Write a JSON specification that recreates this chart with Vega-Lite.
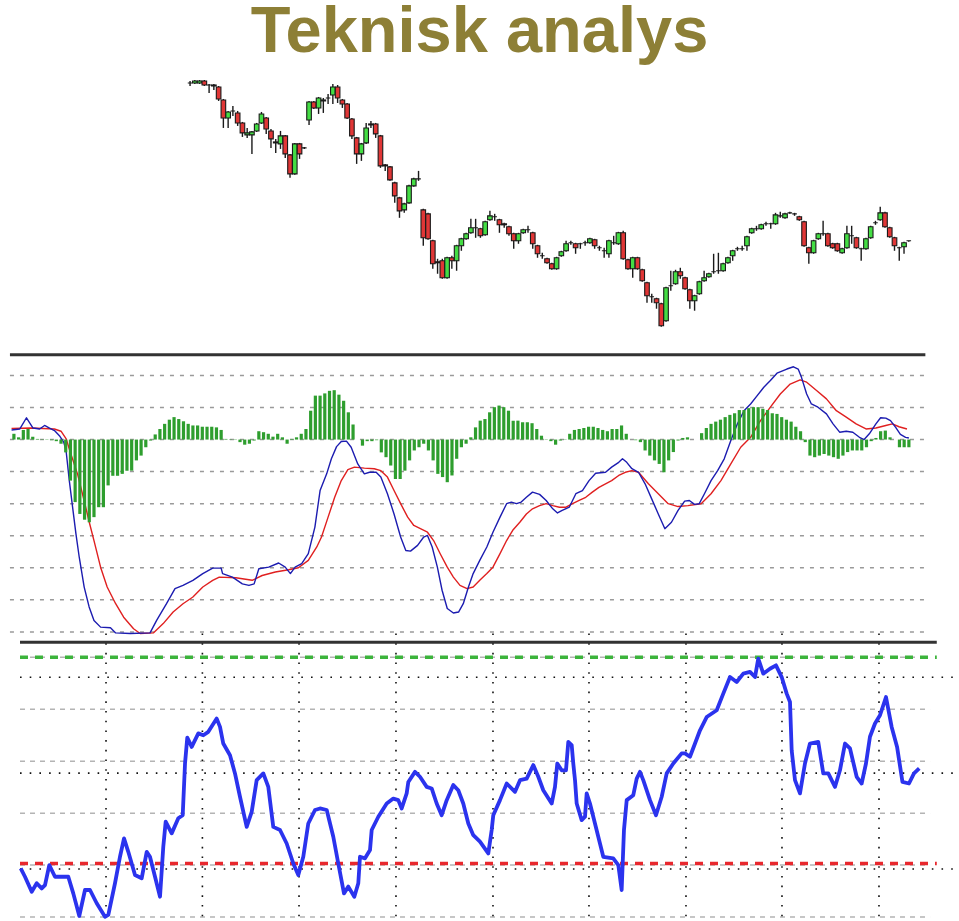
{
"$schema": "https://vega.github.io/schema/vega-lite/v6.json",
"width": 959, "height": 921,
"autosize": {"type": "fit", "contains": "padding"},
"padding": 0,
"background": "white",
"config": {"view": {"stroke": null}},
"title": {"text": "Teknisk analys", "fontSize": 65, "font": "Liberation Sans", "fontWeight": "bold", "color": "#8d7f36", "anchor": "middle", "baseline": "alphabetic", "offset": -50},
"datasets": {
"candles": [
{"i":0,"o":318,"h":320,"l":315,"c":318},{"i":1,"o":318,"h":321,"l":317,"c":320},{"i":2,"o":318,"h":321,"l":317,"c":320},{"i":3,"o":320,"h":321,"l":315,"c":316},{"i":4,"o":316,"h":317,"l":308,"c":316},{"i":5,"o":316,"h":317,"l":311,"c":315},{"i":6,"o":314,"h":315,"l":300,"c":302},{"i":7,"o":301,"h":302,"l":273,"c":283},{"i":8,"o":283,"h":290,"l":273,"c":289},{"i":9,"o":290,"h":295,"l":285,"c":290},
{"i":10,"o":288,"h":290,"l":275,"c":278},{"i":11,"o":278,"h":279,"l":264,"c":268},{"i":12,"o":266,"h":273,"l":263,"c":268},{"i":13,"o":266,"h":270,"l":247,"c":269},{"i":14,"o":270,"h":278,"l":269,"c":277},{"i":15,"o":278,"h":289,"l":277,"c":287},{"i":16,"o":283,"h":284,"l":267,"c":272},{"i":17,"o":270,"h":272,"l":253,"c":262},{"i":18,"o":259,"h":262,"l":248,"c":258},{"i":19,"o":257,"h":270,"l":252,"c":265},
{"i":20,"o":265,"h":266,"l":243,"c":247},{"i":21,"o":246,"h":247,"l":223,"c":227},{"i":22,"o":227,"h":258,"l":226,"c":257},{"i":23,"o":257,"h":258,"l":242,"c":247},{"i":24,"o":253,"h":254,"l":252,"c":253},{"i":25,"o":281,"h":300,"l":276,"c":299},{"i":26,"o":299,"h":300,"l":292,"c":293},{"i":27,"o":293,"h":304,"l":287,"c":303},{"i":28,"o":300,"h":303,"l":288,"c":301},{"i":29,"o":303,"h":307,"l":297,"c":303},
{"i":30,"o":306,"h":317,"l":297,"c":314},{"i":31,"o":314,"h":316,"l":298,"c":303},{"i":32,"o":301,"h":302,"l":293,"c":297},{"i":33,"o":297,"h":298,"l":282,"c":283},{"i":34,"o":282,"h":283,"l":262,"c":265},{"i":35,"o":263,"h":264,"l":237,"c":247},{"i":36,"o":247,"h":258,"l":240,"c":257},{"i":37,"o":258,"h":278,"l":257,"c":273},{"i":38,"o":277,"h":280,"l":273,"c":276},{"i":39,"o":277,"h":278,"l":263,"c":267},
{"i":40,"o":265,"h":266,"l":233,"c":235},{"i":41,"o":236,"h":237,"l":230,"c":235},{"i":42,"o":234,"h":235,"l":220,"c":221},{"i":43,"o":218,"h":219,"l":198,"c":205},{"i":44,"o":203,"h":204,"l":183,"c":190},{"i":45,"o":191,"h":198,"l":188,"c":197},{"i":46,"o":198,"h":216,"l":197,"c":215},{"i":47,"o":215,"h":223,"l":214,"c":222},{"i":48,"o":222,"h":230,"l":220,"c":222},{"i":49,"o":191,"h":192,"l":155,"c":163},
{"i":50,"o":187,"h":188,"l":161,"c":162},{"i":51,"o":160,"h":161,"l":132,"c":137},{"i":52,"o":139,"h":142,"l":127,"c":138},{"i":53,"o":140,"h":142,"l":122,"c":123},{"i":54,"o":123,"h":144,"l":122,"c":143},{"i":55,"o":143,"h":145,"l":132,"c":140},{"i":56,"o":140,"h":156,"l":130,"c":155},{"i":57,"o":155,"h":163,"l":150,"c":162},{"i":58,"o":162,"h":168,"l":161,"c":167},{"i":59,"o":168,"h":182,"l":167,"c":173},
{"i":60,"o":173,"h":182,"l":163,"c":173},{"i":61,"o":172,"h":173,"l":163,"c":165},{"i":62,"o":166,"h":180,"l":165,"c":179},{"i":63,"o":181,"h":190,"l":180,"c":185},{"i":64,"o":184,"h":187,"l":180,"c":184},{"i":65,"o":181,"h":182,"l":168,"c":176},{"i":66,"o":177,"h":178,"l":173,"c":176},{"i":67,"o":174,"h":175,"l":165,"c":167},{"i":68,"o":167,"h":168,"l":152,"c":160},{"i":69,"o":160,"h":168,"l":157,"c":167},
{"i":70,"o":168,"h":172,"l":167,"c":171},{"i":71,"o":171,"h":175,"l":168,"c":171},{"i":72,"o":168,"h":169,"l":152,"c":157},{"i":73,"o":155,"h":156,"l":143,"c":147},{"i":74,"o":145,"h":148,"l":142,"c":145},{"i":75,"o":142,"h":143,"l":137,"c":138},{"i":76,"o":137,"h":138,"l":131,"c":132},{"i":77,"o":132,"h":144,"l":131,"c":143},{"i":78,"o":145,"h":150,"l":144,"c":149},{"i":79,"o":150,"h":160,"l":149,"c":157},
{"i":80,"o":158,"h":160,"l":156,"c":158},{"i":81,"o":157,"h":158,"l":147,"c":153},{"i":82,"o":157,"h":158,"l":152,"c":157},{"i":83,"o":158,"h":160,"l":155,"c":158},{"i":84,"o":158,"h":163,"l":157,"c":162},{"i":85,"o":161,"h":162,"l":152,"c":155},{"i":86,"o":153,"h":155,"l":150,"c":153},{"i":87,"o":150,"h":153,"l":143,"c":150},{"i":88,"o":147,"h":161,"l":143,"c":160},{"i":89,"o":158,"h":165,"l":156,"c":158},
{"i":90,"o":157,"h":169,"l":156,"c":168},{"i":91,"o":168,"h":170,"l":141,"c":142},{"i":92,"o":141,"h":142,"l":131,"c":132},{"i":93,"o":132,"h":144,"l":123,"c":143},{"i":94,"o":143,"h":144,"l":131,"c":132},{"i":95,"o":131,"h":132,"l":119,"c":120},{"i":96,"o":118,"h":119,"l":98,"c":105},{"i":97,"o":104,"h":107,"l":98,"c":104},{"i":98,"o":102,"h":103,"l":92,"c":98},{"i":99,"o":97,"h":98,"l":74,"c":75},
{"i":100,"o":80,"h":114,"l":79,"c":113},{"i":101,"o":115,"h":130,"l":110,"c":115},{"i":102,"o":117,"h":131,"l":116,"c":129},{"i":103,"o":129,"h":133,"l":122,"c":125},{"i":104,"o":123,"h":124,"l":111,"c":112},{"i":105,"o":111,"h":112,"l":92,"c":100},{"i":106,"o":100,"h":106,"l":90,"c":105},{"i":107,"o":107,"h":120,"l":106,"c":119},{"i":108,"o":120,"h":130,"l":119,"c":123},{"i":109,"o":124,"h":128,"l":123,"c":127},
{"i":110,"o":129,"h":147,"l":127,"c":129},{"i":111,"o":130,"h":148,"l":127,"c":130},{"i":112,"o":130,"h":138,"l":129,"c":137},{"i":113,"o":138,"h":144,"l":137,"c":143},{"i":114,"o":145,"h":151,"l":140,"c":150},{"i":115,"o":152,"h":154,"l":150,"c":152},{"i":116,"o":152,"h":155,"l":150,"c":152},{"i":117,"o":155,"h":165,"l":150,"c":164},{"i":118,"o":168,"h":173,"l":167,"c":172},{"i":119,"o":172,"h":175,"l":170,"c":172},
{"i":120,"o":172,"h":177,"l":171,"c":176},{"i":121,"o":177,"h":179,"l":175,"c":177},{"i":122,"o":177,"h":178,"l":172,"c":177},{"i":123,"o":177,"h":188,"l":176,"c":186},{"i":124,"o":185,"h":189,"l":183,"c":185},{"i":125,"o":183,"h":188,"l":182,"c":187},{"i":126,"o":188,"h":189,"l":187,"c":188},{"i":127,"o":187,"h":188,"l":185,"c":187},{"i":128,"o":184,"h":185,"l":180,"c":181},{"i":129,"o":179,"h":180,"l":154,"c":155},
{"i":130,"o":153,"h":154,"l":137,"c":148},{"i":131,"o":148,"h":161,"l":147,"c":160},{"i":132,"o":162,"h":168,"l":161,"c":167},{"i":133,"o":167,"h":180,"l":165,"c":167},{"i":134,"o":167,"h":168,"l":154,"c":155},{"i":135,"o":157,"h":158,"l":152,"c":153},{"i":136,"o":157,"h":158,"l":149,"c":150},{"i":137,"o":148,"h":153,"l":147,"c":152},{"i":138,"o":153,"h":175,"l":152,"c":167},{"i":139,"o":165,"h":175,"l":157,"c":165},
{"i":140,"o":163,"h":164,"l":152,"c":153},{"i":141,"o":152,"h":153,"l":140,"c":152},{"i":142,"o":152,"h":163,"l":151,"c":162},{"i":143,"o":163,"h":175,"l":162,"c":174},{"i":144,"o":178,"h":180,"l":176,"c":178},{"i":145,"o":181,"h":194,"l":180,"c":188},{"i":146,"o":188,"h":189,"l":173,"c":174},{"i":147,"o":173,"h":174,"l":163,"c":164},{"i":148,"o":163,"h":164,"l":150,"c":155},{"i":149,"o":153,"h":154,"l":140,"c":153},
{"i":150,"o":154,"h":159,"l":147,"c":158},{"i":151,"o":160,"h":160,"l":159,"c":160}
],
"hist": [
{"k":0,"v":0.18},{"k":1,"v":0.07},{"k":2,"v":0.30},{"k":3,"v":0.33},{"k":4,"v":0.09},{"k":5,"v":0.02},{"k":6,"v":0.01},{"k":7,"v":0.01},{"k":8,"v":-0.02},{"k":9,"v":-0.05},
{"k":10,"v":-0.13},{"k":11,"v":-0.40},{"k":12,"v":-1.28},{"k":13,"v":-1.95},{"k":14,"v":-2.32},{"k":15,"v":-2.50},{"k":16,"v":-2.58},{"k":17,"v":-2.42},{"k":18,"v":-2.11},{"k":19,"v":-2.11},
{"k":20,"v":-1.43},{"k":21,"v":-1.13},{"k":22,"v":-1.13},{"k":23,"v":-1.07},{"k":24,"v":-0.97},{"k":25,"v":-0.97},{"k":26,"v":-0.65},{"k":27,"v":-0.50},{"k":28,"v":-0.24},{"k":29,"v":-0.03},
{"k":30,"v":0.16},{"k":31,"v":0.33},{"k":32,"v":0.49},{"k":33,"v":0.62},{"k":34,"v":0.70},{"k":35,"v":0.64},{"k":36,"v":0.57},{"k":37,"v":0.49},{"k":38,"v":0.44},{"k":39,"v":0.44},
{"k":40,"v":0.40},{"k":41,"v":0.40},{"k":42,"v":0.40},{"k":43,"v":0.38},{"k":44,"v":0.30},{"k":45,"v":0.02},{"k":46,"v":0.01},{"k":47,"v":0.01},{"k":48,"v":-0.08},{"k":49,"v":-0.16},
{"k":50,"v":-0.13},{"k":51,"v":-0.03},{"k":52,"v":0.26},{"k":53,"v":0.23},{"k":54,"v":0.18},{"k":55,"v":0.09},{"k":56,"v":0.18},{"k":57,"v":0.07},{"k":58,"v":-0.13},{"k":59,"v":0.02},
{"k":60,"v":0.07},{"k":61,"v":0.18},{"k":62,"v":0.33},{"k":63,"v":0.90},{"k":64,"v":1.37},{"k":65,"v":1.37},{"k":66,"v":1.44},{"k":67,"v":1.52},{"k":68,"v":1.54},{"k":69,"v":1.40},
{"k":70,"v":1.21},{"k":71,"v":0.85},{"k":72,"v":0.47},{"k":73,"v":0.0},{"k":74,"v":-0.19},{"k":75,"v":-0.05},{"k":76,"v":-0.05},{"k":77,"v":-0.02},{"k":78,"v":-0.40},{"k":79,"v":-0.55},
{"k":80,"v":-0.81},{"k":81,"v":-1.23},{"k":82,"v":-1.23},{"k":83,"v":-0.97},{"k":84,"v":-0.65},{"k":85,"v":-0.34},{"k":86,"v":-0.24},{"k":87,"v":-0.13},{"k":88,"v":-0.34},{"k":89,"v":-0.65},
{"k":90,"v":-1.07},{"k":91,"v":-1.17},{"k":92,"v":-1.33},{"k":93,"v":-1.12},{"k":94,"v":-0.60},{"k":95,"v":-0.24},{"k":96,"v":-0.13},{"k":97,"v":0.07},{"k":98,"v":0.38},{"k":99,"v":0.59},
{"k":100,"v":0.64},{"k":101,"v":0.85},{"k":102,"v":1.01},{"k":103,"v":1.06},{"k":104,"v":1.01},{"k":105,"v":0.90},{"k":106,"v":0.59},{"k":107,"v":0.59},{"k":108,"v":0.54},{"k":109,"v":0.54},
{"k":110,"v":0.51},{"k":111,"v":0.33},{"k":112,"v":0.12},{"k":113,"v":0.01},{"k":114,"v":-0.05},{"k":115,"v":-0.16},{"k":116,"v":-0.03},{"k":117,"v":0.01},{"k":118,"v":0.18},{"k":119,"v":0.30},
{"k":120,"v":0.33},{"k":121,"v":0.36},{"k":122,"v":0.40},{"k":123,"v":0.40},{"k":124,"v":0.36},{"k":125,"v":0.30},{"k":126,"v":0.26},{"k":127,"v":0.33},{"k":128,"v":0.33},{"k":129,"v":0.44},
{"k":130,"v":0.18},{"k":131,"v":0.0},{"k":132,"v":-0.02},{"k":133,"v":-0.08},{"k":134,"v":-0.34},{"k":135,"v":-0.50},{"k":136,"v":-0.65},{"k":137,"v":-0.76},{"k":138,"v":-1.02},{"k":139,"v":-0.65},
{"k":140,"v":-0.39},{"k":141,"v":-0.03},{"k":142,"v":0.05},{"k":143,"v":0.07},{"k":144,"v":0.0},{"k":145,"v":0.0},{"k":146,"v":0.20},{"k":147,"v":0.36},{"k":148,"v":0.49},{"k":149,"v":0.56},
{"k":150,"v":0.62},{"k":151,"v":0.70},{"k":152,"v":0.77},{"k":153,"v":0.82},{"k":154,"v":0.92},{"k":155,"v":0.92},{"k":156,"v":0.98},{"k":157,"v":1.01},{"k":158,"v":1.01},{"k":159,"v":0.96},
{"k":160,"v":0.92},{"k":161,"v":0.82},{"k":162,"v":0.80},{"k":163,"v":0.70},{"k":164,"v":0.62},{"k":165,"v":0.56},{"k":166,"v":0.40},{"k":167,"v":0.26},{"k":168,"v":-0.08},{"k":169,"v":-0.50},
{"k":170,"v":-0.55},{"k":171,"v":-0.50},{"k":172,"v":-0.45},{"k":173,"v":-0.50},{"k":174,"v":-0.55},{"k":175,"v":-0.60},{"k":176,"v":-0.50},{"k":177,"v":-0.39},{"k":178,"v":-0.34},{"k":179,"v":-0.34},
{"k":180,"v":-0.34},{"k":181,"v":-0.24},{"k":182,"v":-0.05},{"k":183,"v":0.05},{"k":184,"v":0.26},{"k":185,"v":0.28},{"k":186,"v":0.07},{"k":187,"v":0.0},{"k":188,"v":-0.24},{"k":189,"v":-0.24},{"k":190,"v":-0.24}
],
"macd": [
{"k":-0.5,"u":0.30},{"k":1.26,"u":0.33},{"k":2.67,"u":0.68},{"k":4.06,"u":0.36},{"k":5.46,"u":0.33},{"k":6.51,"u":0.44},{"k":7.56,"u":0.36},{"k":8.61,"u":0.28},{"k":9.66,"u":0.12},{"k":10.57,"u":-0.08},{"k":11.07,"u":-0.34},{"k":11.76,"u":-1.28},{"k":12.46,"u":-2.11},{"k":13.17,"u":-2.94},{"k":13.87,"u":-3.67},{"k":14.92,"u":-4.60},{"k":15.97,"u":-5.22},{"k":17.0,"u":-5.64},{"k":18.4,"u":-5.85},{"k":20.5,"u":-5.87},{"k":21.6,"u":-6.03},{"k":24.7,"u":-6.05},{"k":28.9,"u":-6.03},{"k":30.3,"u":-5.64},{"k":32.4,"u":-5.12},{"k":34.2,"u":-4.65},{"k":35.9,"u":-4.55},{"k":38.0,"u":-4.39},{"k":40.1,"u":-4.18},{"k":42.2,"u":-4.01},{"k":44.0,"u":-4.01},{"k":44.3,"u":-4.18},{"k":46.4,"u":-4.29},{"k":48.5,"u":-4.50},{"k":49.9,"u":-4.55},{"k":51.0,"u":-4.50},{"k":52.0,"u":-4.03},{"k":54.1,"u":-3.98},{"k":56.2,"u":-3.85},{"k":57.6,"u":-3.98},{"k":58.7,"u":-4.18},{"k":59.7,"u":-3.98},{"k":61.1,"u":-3.87},{"k":62.5,"u":-3.56},{"k":63.9,"u":-2.73},{"k":65.0,"u":-1.59},{"k":66.4,"u":-1.07},{"k":67.4,"u":-0.60},{"k":68.5,"u":-0.22},{"k":69.5,"u":-0.06},{"k":70.6,"u":-0.05},{"k":71.6,"u":-0.24},{"k":73.0,"u":-0.76},{"k":74.4,"u":-1.07},{"k":75.5,"u":-1.02},{"k":76.9,"u":-1.02},{"k":77.9,"u":-1.17},{"k":79.3,"u":-1.69},{"k":80.7,"u":-2.32},{"k":82.1,"u":-3.04},{"k":83.2,"u":-3.46},{"k":84.2,"u":-3.48},{"k":85.7,"u":-3.30},{"k":87.0,"u":-3.04},{"k":87.8,"u":-2.99},{"k":88.8,"u":-3.35},{"k":89.9,"u":-3.98},{"k":90.9,"u":-4.70},{"k":92.0,"u":-5.27},{"k":93.3,"u":-5.41},{"k":94.4,"u":-5.38},{"k":95.4,"u":-5.12},{"k":96.5,"u":-4.60},{"k":97.5,"u":-4.18},{"k":98.9,"u":-3.77},{"k":100.4,"u":-3.35},{"k":101.7,"u":-2.89},{"k":103.2,"u":-2.42},{"k":104.6,"u":-2.00},{"k":105.6,"u":-1.95},{"k":106.7,"u":-2.00},{"k":107.7,"u":-1.95},{"k":108.8,"u":-1.80},{"k":110.1,"u":-1.64},{"k":111.6,"u":-1.71},{"k":113.0,"u":-1.90},{"k":114.4,"u":-2.16},{"k":115.4,"u":-2.29},{"k":116.4,"u":-2.21},{"k":117.9,"u":-2.11},{"k":119.3,"u":-1.69},{"k":120.7,"u":-1.59},{"k":122.1,"u":-1.28},{"k":123.5,"u":-1.05},{"k":125.6,"u":-1.02},{"k":126.9,"u":-0.86},{"k":128.4,"u":-0.71},{"k":129.2,"u":-0.60},{"k":130.1,"u":-0.71},{"k":131.2,"u":-0.91},{"k":132.6,"u":-1.02},{"k":134.0,"u":-1.38},{"k":135.4,"u":-1.85},{"k":136.8,"u":-2.32},{"k":138.2,"u":-2.78},{"k":139.6,"u":-2.58},{"k":141.0,"u":-2.21},{"k":142.4,"u":-1.92},{"k":143.4,"u":-1.90},{"k":144.5,"u":-2.02},{"k":145.5,"u":-2.00},{"k":146.6,"u":-1.69},{"k":148.0,"u":-1.28},{"k":149.4,"u":-0.97},{"k":150.8,"u":-0.60},{"k":152.2,"u":-0.03},{"k":153.6,"u":0.49},{"k":155.0,"u":0.90},{"k":156.4,"u":1.11},{"k":157.8,"u":1.37},{"k":159.2,"u":1.63},{"k":160.6,"u":1.84},{"k":162.0,"u":2.07},{"k":164.1,"u":2.20},{"k":165.5,"u":2.27},{"k":166.5,"u":2.20},{"k":167.2,"u":1.94},{"k":168.3,"u":1.42},{"k":169.3,"u":1.11},{"k":170.7,"u":1.01},{"k":172.5,"u":0.80},{"k":173.9,"u":0.49},{"k":175.3,"u":0.23},{"k":176.7,"u":0.26},{"k":178.1,"u":0.23},{"k":179.5,"u":0.07},{"k":180.5,"u":0.0},{"k":181.6,"u":0.18},{"k":183.0,"u":0.49},{"k":184.0,"u":0.68},{"k":185.1,"u":0.67},{"k":186.1,"u":0.59},{"k":187.2,"u":0.38},{"k":188.2,"u":0.16},{"k":189.3,"u":0.07},{"k":190.0,"u":0.05}
],
"signal": [
{"k":-0.5,"u":0.35},{"k":3.7,"u":0.36},{"k":8.6,"u":0.33},{"k":10.0,"u":0.26},{"k":11.1,"u":0.02},{"k":12.1,"u":-0.45},{"k":13.5,"u":-1.07},{"k":14.9,"u":-1.90},{"k":16.0,"u":-2.58},{"k":17.0,"u":-3.15},{"k":18.4,"u":-3.98},{"k":19.8,"u":-4.60},{"k":21.6,"u":-5.12},{"k":23.3,"u":-5.54},{"k":25.4,"u":-5.90},{"k":26.8,"u":-6.05},{"k":29.6,"u":-6.03},{"k":31.7,"u":-5.74},{"k":33.8,"u":-5.38},{"k":35.9,"u":-5.12},{"k":38.0,"u":-4.91},{"k":40.1,"u":-4.60},{"k":42.2,"u":-4.39},{"k":43.6,"u":-4.29},{"k":47.1,"u":-4.31},{"k":50.6,"u":-4.39},{"k":52.7,"u":-4.24},{"k":55.5,"u":-4.13},{"k":58.3,"u":-4.06},{"k":60.4,"u":-4.00},{"k":62.5,"u":-3.77},{"k":64.3,"u":-3.35},{"k":65.3,"u":-3.04},{"k":66.7,"u":-2.42},{"k":68.1,"u":-1.80},{"k":69.5,"u":-1.28},{"k":70.9,"u":-0.94},{"k":72.3,"u":-0.86},{"k":74.4,"u":-0.89},{"k":76.5,"u":-0.91},{"k":77.9,"u":-0.97},{"k":79.3,"u":-1.17},{"k":80.7,"u":-1.59},{"k":82.1,"u":-2.00},{"k":83.6,"u":-2.42},{"k":84.9,"u":-2.68},{"k":86.3,"u":-2.78},{"k":87.8,"u":-2.89},{"k":89.1,"u":-3.15},{"k":90.5,"u":-3.56},{"k":92.0,"u":-3.98},{"k":93.3,"u":-4.29},{"k":94.7,"u":-4.55},{"k":96.2,"u":-4.65},{"k":97.5,"u":-4.60},{"k":98.9,"u":-4.39},{"k":100.4,"u":-4.18},{"k":101.7,"u":-3.98},{"k":103.2,"u":-3.56},{"k":104.6,"u":-3.15},{"k":105.9,"u":-2.83},{"k":107.4,"u":-2.58},{"k":108.8,"u":-2.32},{"k":110.1,"u":-2.16},{"k":111.6,"u":-2.06},{"k":113.0,"u":-2.00},{"k":114.4,"u":-2.06},{"k":115.8,"u":-2.11},{"k":117.2,"u":-2.11},{"k":118.6,"u":-2.00},{"k":120.0,"u":-1.90},{"k":121.4,"u":-1.80},{"k":122.8,"u":-1.64},{"k":124.2,"u":-1.49},{"k":125.6,"u":-1.38},{"k":126.9,"u":-1.28},{"k":128.4,"u":-1.12},{"k":129.8,"u":-1.02},{"k":131.2,"u":-0.97},{"k":132.6,"u":-1.02},{"k":134.7,"u":-1.38},{"k":136.8,"u":-1.69},{"k":138.9,"u":-2.00},{"k":141.0,"u":-2.09},{"k":143.1,"u":-2.06},{"k":145.9,"u":-2.00},{"k":148.0,"u":-1.69},{"k":150.1,"u":-1.28},{"k":152.2,"u":-0.76},{"k":154.3,"u":-0.24},{"k":156.4,"u":0.07},{"k":158.5,"u":0.59},{"k":160.6,"u":1.01},{"k":162.7,"u":1.42},{"k":164.8,"u":1.73},{"k":166.9,"u":1.86},{"k":168.3,"u":1.79},{"k":170.4,"u":1.53},{"k":172.5,"u":1.27},{"k":174.6,"u":0.90},{"k":176.7,"u":0.70},{"k":178.8,"u":0.49},{"k":180.9,"u":0.33},{"k":183.0,"u":0.36},{"k":185.1,"u":0.44},{"k":186.5,"u":0.49},{"k":187.9,"u":0.40},{"k":189.6,"u":0.33}
],
"osc": [
{"t":0.15,"r":18.7},{"t":1.04,"r":15.5},{"t":2.44,"r":9.7},{"t":3.48,"r":13.0},{"t":4.52,"r":11.0},{"t":5.21,"r":12.3},{"t":6.10,"r":20.0},{"t":7.29,"r":15.5},{"t":10.06,"r":15.5},{"t":11.10,"r":9.1},{"t":12.35,"r":0.4},{"t":13.54,"r":10.4},{"t":14.58,"r":10.4},{"t":15.98,"r":5.3},{"t":17.71,"r":0.1},{"t":18.40,"r":0.8},{"t":19.79,"r":13.0},{"t":20.83,"r":23.2},{"t":21.67,"r":30.3},{"t":22.56,"r":25.1},{"t":23.96,"r":16.2},{"t":25.35,"r":14.9},{"t":26.40,"r":25.1},{"t":27.08,"r":23.2},{"t":28.13,"r":15.5},{"t":29.17,"r":7.8},{"t":29.85,"r":27.0},{"t":30.35,"r":36.7},{"t":31.60,"r":32.2},{"t":32.98,"r":38.0},{"t":33.90,"r":39.2},{"t":34.38,"r":59.1},{"t":34.85,"r":69.1},{"t":35.77,"r":65.5},{"t":37.15,"r":70.7},{"t":38.19,"r":70.0},{"t":39.23,"r":71.3},{"t":40.98,"r":76.4},{"t":41.67,"r":73.2},{"t":42.35,"r":66.8},{"t":43.75,"r":62.3},{"t":44.79,"r":55.3},{"t":45.83,"r":46.3},{"t":47.23,"r":34.7},{"t":48.27,"r":40.5},{"t":49.31,"r":52.7},{"t":50.69,"r":55.3},{"t":51.73,"r":50.1},{"t":52.77,"r":34.7},{"t":54.17,"r":33.5},{"t":55.56,"r":28.3},{"t":56.94,"r":20.6},{"t":57.98,"r":16.2},{"t":59.02,"r":23.2},{"t":60.06,"r":36.0},{"t":61.46,"r":41.2},{"t":62.50,"r":41.8},
{"t":63.90,"r":41.2},{"t":65.27,"r":30.9},{"t":66.31,"r":20.6},{"t":67.50,"r":9.1},{"t":68.40,"r":11.7},{"t":69.65,"r":7.8},{"t":70.48,"r":13.0},{"t":70.83,"r":23.2},{"t":71.88,"r":22.6},{"t":72.92,"r":25.8},{"t":73.27,"r":33.5},{"t":74.65,"r":38.6},{"t":76.40,"r":43.7},{"t":77.77,"r":45.6},{"t":78.81,"r":45.0},{"t":79.52,"r":41.8},{"t":80.56,"r":47.6},{"t":80.90,"r":52.0},{"t":82.29,"r":55.9},{"t":83.33,"r":54.0},{"t":84.73,"r":50.1},{"t":85.77,"r":49.5},{"t":86.81,"r":43.7},{"t":87.85,"r":39.2},{"t":88.90,"r":45.0},{"t":90.27,"r":50.8},{"t":91.31,"r":48.8},{"t":92.35,"r":43.7},{"t":93.40,"r":36.0},{"t":94.44,"r":31.5},{"t":95.83,"r":29.0},{"t":97.56,"r":24.5},{"t":98.27,"r":33.5},{"t":98.60,"r":39.2},{"t":100.0,"r":45.0},{"t":101.40,"r":51.4},{"t":103.13,"r":48.2},{"t":104.17,"r":52.7},{"t":105.56,"r":53.3},{"t":106.94,"r":58.5},{"t":107.98,"r":54.0},{"t":109.02,"r":48.8},{"t":110.77,"r":43.7},{"t":111.46,"r":50.1},{"t":111.94,"r":59.1},{"t":112.85,"r":56.5},{"t":113.75,"r":56.5},{"t":114.23,"r":67.4},{"t":114.94,"r":66.2},{"t":115.27,"r":59.1},{"t":115.63,"r":52.7},{"t":115.98,"r":43.7},{"t":117.02,"r":37.3},{"t":117.71,"r":38.6},{"t":118.06,"r":47.6},{"t":118.75,"r":43.7},{"t":119.79,"r":36.0},{"t":120.83,"r":28.3},{"t":121.52,"r":23.2},{"t":123.60,"r":22.6},{"t":124.65,"r":20.0},{"t":125.35,"r":10.4},{"t":125.83,"r":33.5},{"t":126.40,"r":45.0},{"t":127.77,"r":46.9},{"t":128.48,"r":53.3},{"t":129.17,"r":55.9},
{"t":129.85,"r":52.7},{"t":131.25,"r":45.0},{"t":132.50,"r":39.2},{"t":133.69,"r":46.3},{"t":134.73,"r":55.3},{"t":136.10,"r":59.1},{"t":137.85,"r":63.0},{"t":138.54,"r":63.0},{"t":139.58,"r":61.7},{"t":140.63,"r":66.8},{"t":141.67,"r":71.9},{"t":143.06,"r":77.0},{"t":145.15,"r":79.6},{"t":146.52,"r":86.0},{"t":147.92,"r":92.4},{"t":149.31,"r":90.5},{"t":150.69,"r":93.7},{"t":152.08,"r":94.4},{"t":153.13,"r":92.4},{"t":153.81,"r":99.5},{"t":154.85,"r":93.7},{"t":156.25,"r":95.6},{"t":157.50,"r":96.9},{"t":158.69,"r":92.4},{"t":159.73,"r":86.0},{"t":160.42,"r":82.8},{"t":160.77,"r":64.2},{"t":161.46,"r":52.7},{"t":162.50,"r":47.6},{"t":163.54,"r":59.1},{"t":164.58,"r":66.8},{"t":166.31,"r":67.4},{"t":167.35,"r":55.3},{"t":168.40,"r":55.3},{"t":169.79,"r":50.1},{"t":170.83,"r":56.5},{"t":171.88,"r":66.8},{"t":172.92,"r":64.9},{"t":174.31,"r":54.0},{"t":175.35,"r":51.4},{"t":176.25,"r":59.1},{"t":177.08,"r":69.4},{"t":178.13,"r":74.5},{"t":179.17,"r":77.7},{"t":180.42,"r":84.7},{"t":181.60,"r":73.2},{"t":182.73,"r":65.5},{"t":183.85,"r":52.0},{"t":185.21,"r":51.4},{"t":186.25,"r":55.3},{"t":187.35,"r":57.2}
],
"macdGrid": [{"u":2},{"u":1},{"u":0},{"u":-1},{"u":-2},{"u":-3},{"u":-4},{"u":-5},{"u":-6}],
"oscGrid": [{"r":0},{"r":20},{"r":40},{"r":60},{"r":80},{"r":100}],
"oscDotH": [{"r":92.3},{"r":55.4},{"r":18.5}],
"oscDotV": [{"t":17.92},{"t":38.0},{"t":58.13},{"t":78.33},{"t":98.54},{"t":118.54},{"t":138.75},{"t":158.75},{"t":178.96}],
"one": [{}]
},
"layer": [
{
"layer": [
{"data": {"name": "candles"}, "mark": {"type": "rule", "color": "#1a1a1a", "strokeWidth": 1.4},
 "encoding": {
  "x": {"field": "i", "type": "quantitative", "axis": null, "scale": {"domain": [-38.88, 160.5], "nice": false, "zero": false}},
  "y": {"field": "l", "type": "quantitative", "axis": null, "scale": {"domain": [-521, 334], "nice": false, "zero": false}},
  "y2": {"field": "h"}}},
{"data": {"name": "candles"}, "mark": {"type": "bar", "width": 4.6, "stroke": "#1a1a1a", "strokeWidth": 1.1},
 "encoding": {
  "x": {"field": "i", "type": "quantitative", "axis": null, "scale": {"domain": [-38.88, 160.5], "nice": false, "zero": false}},
  "y": {"field": "o", "type": "quantitative", "axis": null, "scale": {"domain": [-521, 334], "nice": false, "zero": false}},
  "y2": {"field": "c"},
  "fill": {"condition": {"test": "datum.c >= datum.o", "value": "#44dd44"}, "value": "#e03636"}}}
]
},
{
"layer": [
{"data": {"name": "macdGrid"}, "mark": {"type": "rule", "color": "#9a9a9a", "strokeWidth": 1.5, "strokeDash": [4, 6]},
 "encoding": {
  "x": {"datum": -0.84, "type": "quantitative", "axis": null, "scale": {"domain": [-1.891, 199.58], "nice": false, "zero": false}},
  "x2": {"datum": 193.5},
  "y": {"field": "u", "type": "quantitative", "axis": null, "scale": {"domain": [-15.016, 11.62], "nice": false, "zero": false}}}},
{"data": {"name": "one"}, "mark": {"type": "rule", "color": "#333333", "strokeWidth": 3},
 "encoding": {
  "x": {"datum": -0.84, "type": "quantitative"},
  "x2": {"datum": 193.5},
  "y": {"datum": 2.648, "type": "quantitative"}}},
{"data": {"name": "signal"}, "mark": {"type": "line", "color": "#e02020", "strokeWidth": 1.4, "strokeJoin": "round"},
 "encoding": {
  "x": {"field": "k", "type": "quantitative"},
  "y": {"field": "u", "type": "quantitative"}}},
{"data": {"name": "macd"}, "mark": {"type": "line", "color": "#1c1cb0", "strokeWidth": 1.4, "strokeJoin": "round"},
 "encoding": {
  "x": {"field": "k", "type": "quantitative"},
  "y": {"field": "u", "type": "quantitative"}}},
{"data": {"name": "hist"}, "mark": {"type": "bar", "width": 3.2, "color": "#2e9e2e"},
 "encoding": {
  "x": {"field": "k", "type": "quantitative"},
  "y": {"field": "v", "type": "quantitative"},
  "y2": {"datum": 0}}}
]
},
{
"layer": [
{"data": {"name": "oscGrid"}, "mark": {"type": "rule", "color": "#b4b4b4", "strokeWidth": 1.5, "strokeDash": [5, 5]},
 "encoding": {
  "x": {"datum": 0, "type": "quantitative", "axis": null, "scale": {"domain": [-4.167, 195.63], "nice": false, "zero": false}},
  "x2": {"datum": 189.6},
  "y": {"field": "r", "type": "quantitative", "axis": null, "scale": {"domain": [-1.538, 327.31], "nice": false, "zero": false}}}},
{"data": {"name": "oscDotH"}, "mark": {"type": "rule", "color": "#111111", "strokeWidth": 1.6, "strokeDash": [1.6, 8.1]},
 "encoding": {
  "x": {"datum": 0, "type": "quantitative"},
  "x2": {"datum": 194.8},
  "y": {"field": "r", "type": "quantitative"}}},
{"data": {"name": "oscDotV"}, "mark": {"type": "rule", "color": "#111111", "strokeWidth": 1.6, "strokeDash": [1.6, 8.1]},
 "encoding": {
  "x": {"field": "t", "type": "quantitative"},
  "y": {"datum": 109.2, "type": "quantitative"},
  "y2": {"datum": -0.6}}},
{"data": {"name": "one"}, "mark": {"type": "rule", "color": "#3cb43c", "strokeWidth": 3.5, "strokeDash": [8, 7]},
 "encoding": {
  "x": {"datum": 0, "type": "quantitative"},
  "x2": {"datum": 191.0},
  "y": {"datum": 100, "type": "quantitative"}}},
{"data": {"name": "one"}, "mark": {"type": "rule", "color": "#e8282e", "strokeWidth": 3.5, "strokeDash": [8, 7]},
 "encoding": {
  "x": {"datum": 0, "type": "quantitative"},
  "x2": {"datum": 191.0},
  "y": {"datum": 20.6, "type": "quantitative"}}},
{"data": {"name": "one"}, "mark": {"type": "rule", "color": "#333333", "strokeWidth": 3},
 "encoding": {
  "x": {"datum": 0, "type": "quantitative"},
  "x2": {"datum": 191.0},
  "y": {"datum": 105.8, "type": "quantitative"}}},
{"data": {"name": "osc"}, "mark": {"type": "line", "color": "#2b33ee", "strokeWidth": 3.8, "strokeJoin": "round"},
 "encoding": {
  "x": {"field": "t", "type": "quantitative"},
  "y": {"field": "r", "type": "quantitative"}}}
]
}
],
"resolve": {"scale": {"x": "independent", "y": "independent"}}
}
